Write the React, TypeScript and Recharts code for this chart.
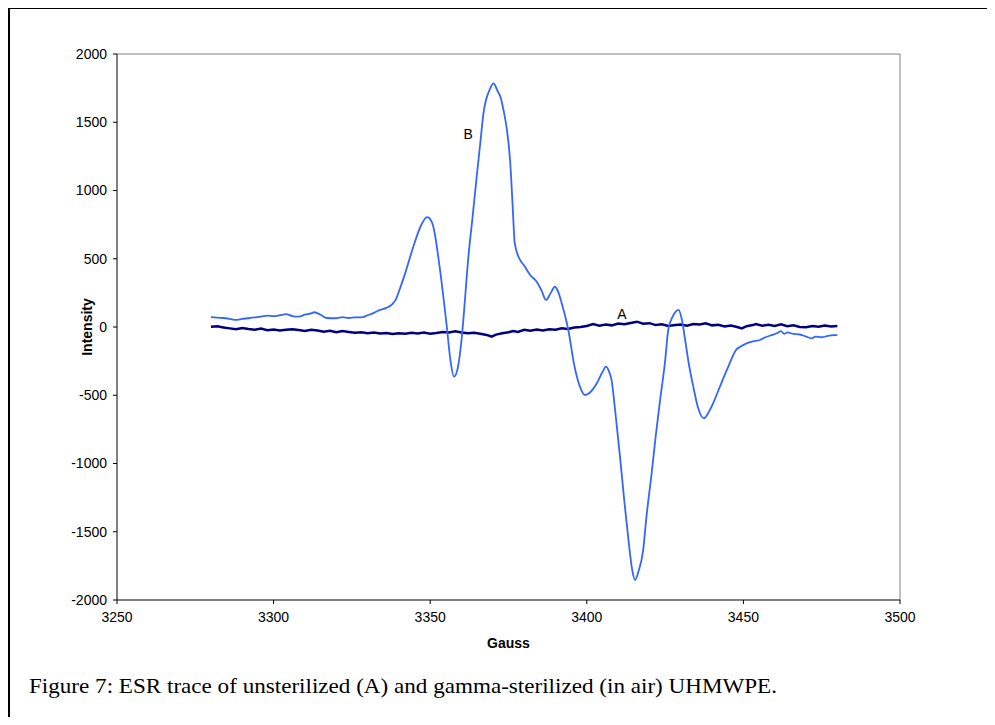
import React from 'react';
import { LineChart, Line, XAxis, YAxis, ReferenceLine, ReferenceDot, Label } from 'recharts';

// Series B: gamma-sterilized (in air)
const gaussB = [3280,3282,3284,3286,3288,3290,3292,3294,3296,3298,3300,3302,3304,3306,3308,3310,3312,3313,3315,3317,3320,3322,3324,3326,3328,3330,3332,3334,3336,3338,3339,3340,3342,3344.6,3347,3349,3350,3351,3353,3355.3,3356.5,3357.6,3358.8,3360,3361,3362,3363.5,3364.8,3366,3367,3369,3370.2,3371.5,3372.5,3373.4,3374.4,3375.5,3376.3,3377,3378.7,3380,3381.9,3384,3385.5,3387,3388.5,3389.8,3391,3392,3394.1,3396,3397.8,3399.4,3401,3403.2,3405,3406.1,3407,3407.9,3409,3410.6,3412,3413.3,3414.5,3415.4,3416.5,3418,3419,3420.7,3422,3423.4,3425,3426,3427.5,3429.3,3430.3,3431.4,3432.5,3434,3435.5,3437.4,3439,3440.5,3442.5,3445,3447.8,3449,3451,3453,3455.3,3457,3459,3461,3462,3463,3464,3466,3468,3470,3471.8,3473,3475,3477,3479,3480];
const intensityB = [72,68,66,60,52,60,64,70,76,84,80,86,94,80,76,90,100,108,90,66,64,72,66,70,70,86,104,125,140,170,200,260,393,588,740,805,790,735,442,2,-250,-364,-300,-95,170,466,800,1090,1350,1565,1740,1785,1730,1680,1590,1460,1223,900,613,491,450,381,332,270,198,250,295,250,173,-22,-280,-437,-498,-480,-412,-330,-291,-320,-388,-600,-950,-1280,-1560,-1780,-1853,-1790,-1634,-1400,-1072,-800,-535,-250,-22,80,125,60,-95,-260,-437,-590,-669,-620,-550,-437,-300,-164,-145,-120,-105,-95,-75,-60,-42,-30,-50,-40,-51,-55,-70,-83,-70,-75,-65,-60,-59];

// Series A: unsterilized
const gaussA = [3280,3282,3284,3286,3288,3290,3292,3294,3296,3298,3300,3302,3304,3306,3308,3310,3312,3314,3316,3318,3320,3322,3324,3326,3328,3330,3332,3334,3336,3338,3340,3342,3344,3346,3348,3350,3352,3354,3356,3358,3360,3362,3364,3366,3368,3369.6,3371,3373,3375,3376.5,3378,3380,3382,3384,3386,3388,3390,3392,3394,3396,3398,3400,3402,3404,3406,3408,3410,3412,3414,3416,3418,3420,3422,3424,3426,3427.6,3430,3432,3434,3436,3438,3440,3442,3444,3446,3448,3449.5,3451,3453,3454,3456,3458,3460,3462,3464,3466,3468,3470,3472,3474,3476,3478,3480];
const intensityA = [2,5,-3,-10,-17,-8,-15,-20,-12,-24,-18,-26,-20,-16,-22,-30,-20,-26,-34,-28,-38,-30,-36,-42,-38,-46,-40,-48,-44,-52,-45,-50,-42,-48,-40,-50,-44,-36,-40,-32,-40,-46,-42,-50,-58,-70,-56,-46,-38,-29,-36,-20,-28,-18,-26,-16,-20,-10,-14,-4,0,8,22,10,18,12,26,20,30,39,24,28,14,20,8,12,18,10,22,18,27,12,16,4,10,0,-10,6,14,22,10,16,8,20,6,12,0,-2,8,2,10,4,7];

const xTicks = [3250, 3300, 3350, 3400, 3450, 3500];
const yTicks = [-2000, -1500, -1000, -500, 0, 500, 1000, 1500, 2000];
const curveLabels = ['B', 'A'];
const curveLabelGauss = [3362.1, 3411.2];
const curveLabelIntensity = [1414, 95];

const caption = 'Figure 7: ESR trace of unsterilized (A) and gamma-sterilized (in air) UHMWPE.';

const dataA = gaussA.map((x, i) => ({ x, y: intensityA[i] }));
const dataB = gaussB.map((x, i) => ({ x, y: intensityB[i] }));

const FONT = '"Liberation Sans", Arial, sans-serif';

export default function App() {
  return (
    <div style={{ position: 'relative', width: 995, height: 725, margin: -8, overflow: 'hidden', background: '#fff' }}>
      <div style={{ position: 'absolute', left: 8, top: 7, width: 1100, height: 800, border: '2px solid #000', boxSizing: 'border-box' }} />
      <div style={{ position: 'absolute', left: 0, top: 0 }}>
        <LineChart width={995} height={725} margin={{ top: 54, right: 95, bottom: 95, left: 57 }}>
          <XAxis
            type="number"
            dataKey="x"
            domain={[3250, 3500]}
            ticks={xTicks}
            allowDataOverflow
            height={30}
            tickSize={4}
            tickMargin={8}
            stroke="#000"
            tick={{ fill: '#000', fontSize: 14, fontFamily: FONT }}
          >
            <Label value="Gauss" position="bottom" offset={8} style={{ fontSize: 14, fontWeight: 'bold', fontFamily: FONT, fill: '#000' }} />
          </XAxis>
          <YAxis
            type="number"
            domain={[-2000, 2000]}
            ticks={yTicks}
            allowDataOverflow
            width={60}
            tickSize={4}
            tickMargin={6}
            stroke="#000"
            tick={{ fill: '#000', fontSize: 14, fontFamily: FONT }}
          >
            <Label value="Intensity" angle={-90} position="center" style={{ fontSize: 14, fontWeight: 'bold', fontFamily: FONT, fill: '#000' }} />
          </YAxis>
          <ReferenceLine y={2000} stroke="#808080" strokeWidth={1} />
          <ReferenceLine x={3500} stroke="#808080" strokeWidth={1} />
          <Line data={dataA} dataKey="y" type="linear" stroke="#000080" strokeWidth={2.5} dot={false} isAnimationActive={false} />
          <Line data={dataB} dataKey="y" type="monotone" stroke="#3366FF" strokeWidth={1.8} dot={false} isAnimationActive={false} />
          {curveLabels.map((t, i) => (
            <ReferenceDot
              key={t}
              x={curveLabelGauss[i]}
              y={curveLabelIntensity[i]}
              r={0}
              shape={(p: any) => (
                <text x={p.cx} y={p.cy} textAnchor="middle" dominantBaseline="central" fontSize={14} fontFamily={FONT} fill="#000">{t}</text>
              )}
            />
          ))}
        </LineChart>
      </div>
      <svg width={995} height={725} style={{ position: 'absolute', left: 0, top: 0, pointerEvents: 'none' }}>
        <text x={29} y={693} fontSize={22} fontFamily='"Liberation Serif", "Times New Roman", serif' fill="#000" textLength={748} lengthAdjust="spacingAndGlyphs">{caption}</text>
      </svg>
    </div>
  );
}
